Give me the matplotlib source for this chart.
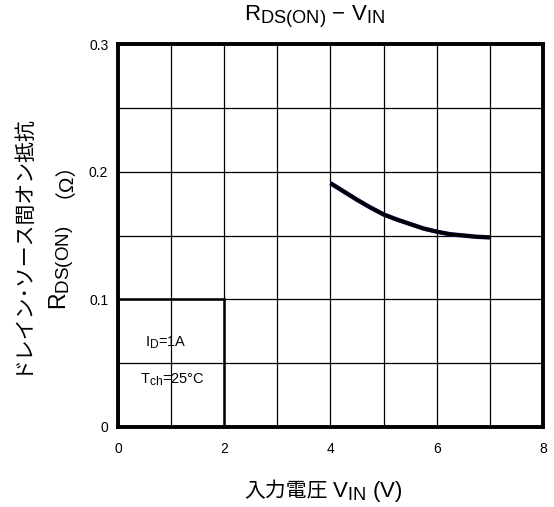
import matplotlib
matplotlib.use('Agg')
import matplotlib.pyplot as plt
import matplotlib._mathtext as mathtext_internal
from matplotlib.patches import Rectangle

plt.rcParams['font.family'] = ['Liberation Sans', 'Noto Sans CJK JP', 'DejaVu Sans']
plt.rcParams['mathtext.fontset'] = 'custom'
plt.rcParams['mathtext.rm'] = 'Liberation Sans'
plt.rcParams['mathtext.it'] = 'Liberation Sans'
# subscripts in the original are a bit bigger than mathtext's default
mathtext_internal.SHRINK_FACTOR = 0.82

# Data
vin = [4.0, 4.25, 4.5, 4.75, 5.0, 5.25, 5.5, 5.75, 6.0, 6.25, 6.5, 6.75, 7.0]
rds_on = [0.191, 0.1845, 0.178, 0.172, 0.1665, 0.1625, 0.159, 0.1555, 0.153,
          0.151, 0.150, 0.149, 0.1485]

x_ticks = [0, 2, 4, 6, 8]
y_ticks = [0, 0.1, 0.2, 0.3]
y_tick_labels = ['0', '0.1', '0.2', '0.3']

fig = plt.figure(figsize=(5.54, 5.07), dpi=100)
ax = fig.add_axes([0.213, 0.158, 0.767, 0.755])

ax.set_xlim(0, 8)
ax.set_ylim(0, 0.3)

# grid: every 1 V and every 0.05 ohm
for xv in range(1, 8):
    ax.axvline(xv, color='black', lw=0.9, zorder=1)
for yv in [0.05, 0.1, 0.15, 0.2, 0.25]:
    ax.axhline(yv, color='black', lw=0.9, zorder=1)

ax.plot(vin, rds_on, color='#1a1a80', lw=3.2, zorder=3, solid_capstyle='butt')
ax.plot(vin, rds_on, color='black', lw=2.6, zorder=4, solid_capstyle='butt')

# condition box
ax.add_patch(Rectangle((0, 0), 2, 0.1, fill=False, edgecolor='black', lw=1.8, zorder=5))
ax.text(0.5, 0.066, r'I$_{\mathrm{D}}$=1A', fontsize=10.5, ha='left', va='center', zorder=6)
ax.text(0.42, 0.037, r'T$_{\mathrm{ch}}$=25°C', fontsize=10.5, ha='left', va='center', zorder=6)

ax.set_xticks(x_ticks)
ax.set_yticks(y_ticks)
ax.set_yticklabels(y_tick_labels)
ax.tick_params(length=0, labelsize=10)
ax.tick_params(axis='x', pad=11)
ax.tick_params(axis='y', pad=7)
for s in ax.spines.values():
    s.set_linewidth(2.8)
    s.set_zorder(7)

fig.text(0.567, 0.966, r'R$_{\mathrm{DS(ON)}}$ $-$ V$_{\mathrm{IN}}$',
         fontsize=16, ha='center', va='center')

# x label: Japanese part and Latin part side by side
fig.text(0.592, 0.030, '入力電圧', fontsize=15, ha='right', va='center')
fig.text(0.600, 0.030, r'V$_{\mathrm{IN}}$ (V)', fontsize=16, ha='left', va='center')

# y label, two lines
fig.text(0.038, 0.52, 'ドレイン･ソース間オン抵抗', fontsize=15, rotation=90,
         ha='center', va='center')
fig.text(0.112, 0.389, r'R$_{\mathrm{DS(ON)}}$', fontsize=16.5, rotation=90,
         ha='center', va='bottom')
fig.text(0.096, 0.667, '（Ω）', fontsize=15, rotation=90,
         ha='center', va='center')

fig.savefig('out.png', dpi=100)
